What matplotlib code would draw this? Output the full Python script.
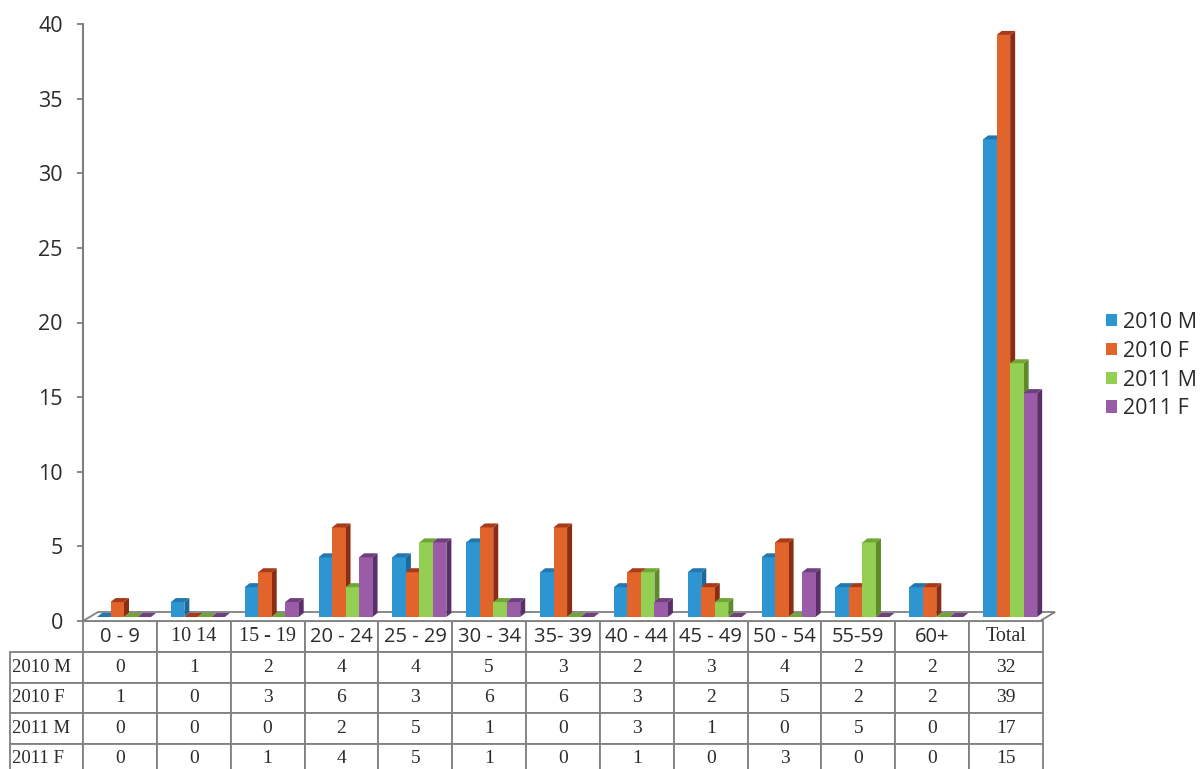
import matplotlib
matplotlib.use("Agg")
import matplotlib.pyplot as plt
from matplotlib.patches import Polygon, Patch
from matplotlib.table import Table

# ---- data -------------------------------------------------------------
age_groups = ["0 - 9", "10 14", "15 - 19", "20 - 24", "25 - 29", "30 - 34",
              "35- 39", "40 - 44", "45 - 49", "50 - 54", "55-59", "60+", "Total"]
series_names = ["2010 M", "2010 F", "2011 M", "2011 F"]
m2010 = [0, 1, 2, 4, 4, 5, 3, 2, 3, 4, 2, 2, 32]
f2010 = [1, 0, 3, 6, 3, 6, 6, 3, 2, 5, 2, 2, 39]
m2011 = [0, 0, 0, 2, 5, 1, 0, 3, 1, 0, 5, 0, 17]
f2011 = [0, 0, 1, 4, 5, 1, 0, 1, 0, 3, 0, 0, 15]
y_ticks = [0, 5, 10, 15, 20, 25, 30, 35, 40]

series_values = [m2010, f2010, m2011, f2011]
front_colors = ["#2c95d2", "#e1652b", "#93cf52", "#9a5ca6"]
side_colors = ["#1c6a99", "#8a2d12", "#5e8b2a", "#5a2f68"]
top_colors = ["#2377ae", "#a83a18", "#6fa636", "#70407e"]
serif_headers = {"10 14", "15 - 19", "Total"}

GRID = "#808080"
TEXT = "#2b2b2b"
SANS = ["Open Sans", "DejaVu Sans"]
SERIF = ["Liberation Serif", "DejaVu Serif"]

W, H = 1204, 769
fig = plt.figure(figsize=(W / 100, H / 100), dpi=100)
ax_left, ax_right, ax_top, ax_bottom = 83, 1043, 24, 621
plot_w_px = ax_right - ax_left
plot_h_px = ax_bottom - ax_top
ax = fig.add_axes([ax_left / W, 1 - ax_bottom / H, plot_w_px / W, plot_h_px / H])

n_cat = len(age_groups)
ax.set_xlim(0, n_cat)
ax.set_ylim(y_ticks[0], y_ticks[-1])

# pixel -> data conversion helpers for the pseudo-3D faces
px_x = n_cat / plot_w_px
px_y = (y_ticks[-1] - y_ticks[0]) / plot_h_px

floor_dx, floor_dy = 15 * px_x, 9 * px_y
bar_dx, bar_dy = 5 * px_x, 4 * px_y
bar_w = 13.5 * px_x
group_left = 14 * px_x
base_y = 4 * px_y

# floor of the 3D plot
floor = Polygon([(0, 0), (n_cat - 0.04, 0), (n_cat - 0.04 + floor_dx, floor_dy),
                 (floor_dx, floor_dy)], closed=True, facecolor="white",
                edgecolor=GRID, linewidth=1.3, zorder=1, clip_on=False)
ax.add_patch(floor)

for j, vals in enumerate(series_values):
    xs = [i + group_left + j * bar_w for i in range(n_cat)]
    z = 3 + j
    ax.bar(xs, vals, width=bar_w, bottom=base_y, align="edge",
           color=front_colors[j], linewidth=0, zorder=z + 0.5, clip_on=False)
    for x0, v in zip(xs, vals):
        y1 = base_y + v
        side = Polygon([(x0 + bar_w, base_y), (x0 + bar_w + bar_dx, base_y + bar_dy),
                        (x0 + bar_w + bar_dx, y1 + bar_dy), (x0 + bar_w, y1)],
                       closed=True, facecolor=side_colors[j], linewidth=0,
                       zorder=z, clip_on=False)
        top = Polygon([(x0, y1), (x0 + bar_w, y1), (x0 + bar_w + bar_dx, y1 + bar_dy),
                       (x0 + bar_dx, y1 + bar_dy)], closed=True,
                      facecolor=top_colors[j], linewidth=0, zorder=z + 0.6,
                      clip_on=False)
        ax.add_patch(side)
        ax.add_patch(top)

# axes styling
for s in ("top", "right", "bottom"):
    ax.spines[s].set_visible(False)
ax.spines["left"].set_color(GRID)
ax.spines["left"].set_linewidth(1.5)
ax.set_yticks(y_ticks)
ax.set_xticks([])
ax.tick_params(axis="y", direction="out", length=4.5, width=1.3, color=GRID,
               pad=10, labelsize=15.5, labelcolor=TEXT)
for lbl in ax.get_yticklabels():
    lbl.set_fontfamily(SANS)

# data table underneath the plot (sizes in axes fractions)
label_w = 73 / plot_w_px
col_w = 1.0 / n_cat
head_h = 31 / plot_h_px
row_h = 30.5 / plot_h_px
total_w = label_w + n_cat * col_w
total_h = head_h + len(series_names) * row_h

tb = Table(ax, bbox=[-label_w, -total_h, total_w, total_h])
tb.auto_set_font_size(False)


def style_cell(cell, size, family):
    cell.set_linewidth(1.3)
    t = cell.get_text()
    t.set_fontsize(size)
    t.set_fontfamily(family)
    t.set_color(TEXT)


for c, name in enumerate(age_groups, start=1):
    cell = tb.add_cell(0, c, col_w, head_h, text=name, loc="center",
                       facecolor="white", edgecolor=GRID)
    style_cell(cell, 14.5, SERIF if name in serif_headers else SANS)

for r, (name, vals) in enumerate(zip(series_names, series_values), start=1):
    cell = tb.add_cell(r, 0, label_w, row_h, text=name, loc="left",
                       facecolor="white", edgecolor=GRID)
    cell.PAD = 0.03
    style_cell(cell, 13.5, SERIF)
    for c, v in enumerate(vals, start=1):
        cell = tb.add_cell(r, c, col_w, row_h, text=str(v), loc="center",
                           facecolor="white", edgecolor=GRID)
        style_cell(cell, 14, SERIF)

ax.add_table(tb)

# legend
handles = [Patch(facecolor=c, edgecolor="none") for c in front_colors]
fig.legend(handles, series_names, loc="upper left",
           bbox_to_anchor=(1106 / W, 1 - 312 / H), frameon=False,
           prop={"family": SANS, "size": 15.5}, labelcolor=TEXT,
           handlelength=0.5, handleheight=0.5, handletextpad=0.3,
           labelspacing=0.36, borderaxespad=0, borderpad=0)

fig.savefig("out.png", dpi=100)
